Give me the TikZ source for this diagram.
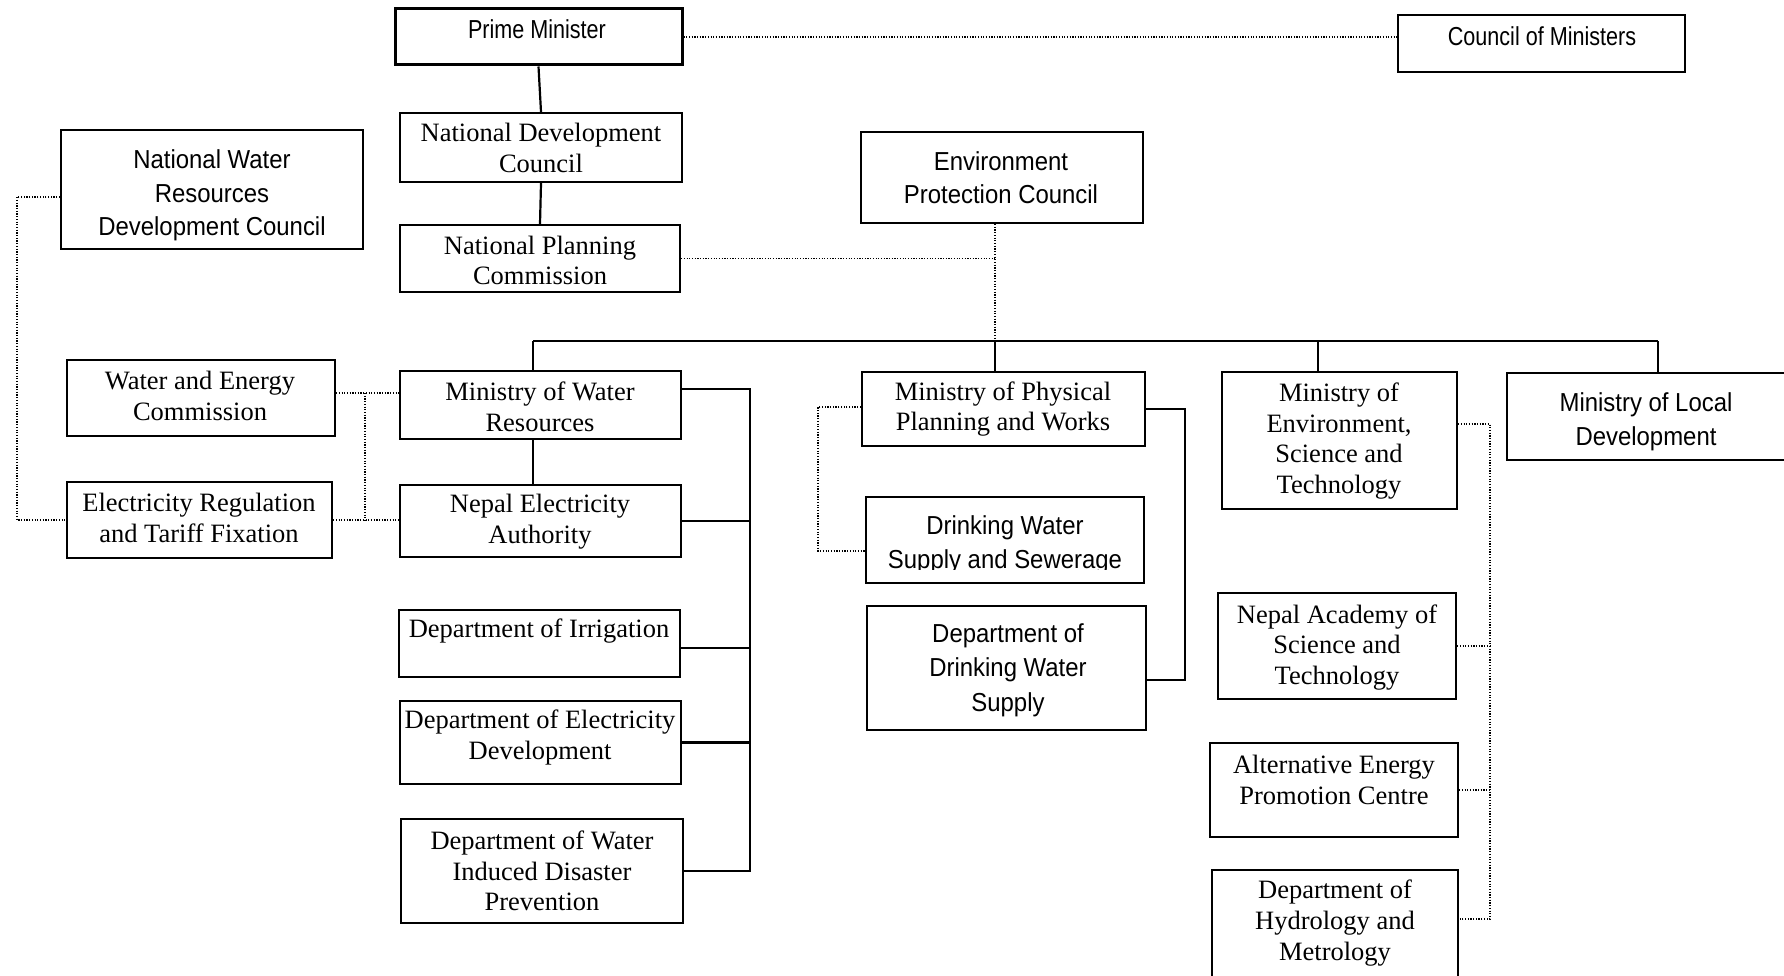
\documentclass[tikz,border=0pt]{standalone}
\usepackage{fontspec}
\newfontfamily\tnr{Liberation Serif}
\newfontfamily\arn[FakeStretch=0.92]{Liberation Sans}
\newfontfamily\arnn[FakeStretch=0.83]{Liberation Sans}
\tikzset{
  box/.style={draw=black, line width=2.2pt, rectangle, inner sep=0pt, fill=white},
  tser/.style={font=\tnr\fontsize{26.5}{30.7}\selectfont, align=center, inner sep=0pt},
  tsan/.style={font=\arn\fontsize{26}{33.5}\selectfont, align=center, inner sep=0pt},
  tsanw/.style={font=\arn\fontsize{26}{34.5}\selectfont, align=center, inner sep=0pt},
  tsann/.style={font=\arnn\fontsize{26}{33.5}\selectfont, align=center, inner sep=0pt},
  link/.style={draw=black, line width=2.2pt},
  blink/.style={draw=black, line width=2.8pt},
  dots/.style={draw=black, line width=1.7pt, dash pattern=on 1.2pt off 1.5pt}
}
\newcommand\bx[6][]{\node[box,#1,minimum width={#5-#3},minimum height={#6-#4}] (#2) at ({(#3+#5)/2},{(#4+#6)/2}) {};}
\begin{document}
\begin{tikzpicture}[x=1pt,y=-1pt]
\clip (0,0) rectangle (1784,976);
\fill[white] (0,0) rectangle (1784,976);
% boxes
\bx[line width=3pt]{pm}{395}{9}{682}{65}
\bx[line width=2.6pt]{com}{1398}{15}{1685}{72}
\bx{ndc}{400}{113}{682}{182}
\bx{npc}{400}{225}{680}{292}
\bx{nwrdc}{61}{130}{363}{249}
\bx{epc}{861}{132}{1143}{223}
\bx{wec}{67}{360}{335}{436}
\bx{ertf}{67}{482}{332}{558}
\bx{mwr}{400}{371}{681}{439}
\bx{nea}{400}{485}{681}{557}
\bx{irr}{399}{610}{680}{677}
\bx{ded}{400}{701}{681}{784}
\bx{dwidp}{401}{819}{683}{923}
\bx{mppw}{862}{372}{1145}{446}
\bx{dwss}{866}{497}{1144}{583}
\bx{ddws}{867}{606}{1146}{730}
\bx{moest}{1222}{372}{1457}{509}
\bx{mold}{1507}{373}{1800}{460}
\bx{nast}{1218}{593}{1456}{699}
\bx{aepc}{1210}{743}{1458}{837}
\bx{dhm}{1212}{870}{1458}{995}
% texts
\node[tsann] (t-pm) at (537,29) {Prime Minister};
\node[tsann] (t-com) at (1542,36) {Council of Ministers};
\node[tser] (t-ndc) at (541,148) {National Development\\Council};
\node[tser] (t-npc) at (540,260.5) {National Planning\\Commission};
\node[tsan] (t-nwrdc) at (212,195.5) {National Water\\Resources\\Development Council};
\node[tsan] (t-epc) at (1001,177.5) {Environment\\Protection Council};
\node[tser] (t-wec) at (200,396) {Water and Energy\\Commission};
\node[tser] (t-ertf) at (199,518) {Electricity Regulation\\and Tariff Fixation};
\node[tser] (t-mwr) at (540,407) {Ministry of Water\\Resources};
\node[tser] (t-nea) at (540,521.5) {Nepal Electricity\\Authority};
\node[tser] (t-irr) at (539,631) {Department of Irrigation};
\node[tser] (t-ded) at (540,737.5) {Department of Electricity\\Development};
\node[tser] (t-dwidp) at (542,871) {Department of Water\\Induced Disaster\\Prevention};
\node[tser] (t-mppw) at (1003,409) {Ministry of Physical\\Planning and Works};
\begin{scope}
\clip (866,497) rectangle (1144,569);
\node[tsan] (t-dwss) at (1005,545) {Drinking Water\\Supply and Sewerage};
\end{scope}
\node[tsanw] (t-ddws) at (1008,670) {Department of\\Drinking Water\\Supply};
\node[tser] (t-moest) at (1339,441) {Ministry of\\Environment,\\Science and\\Technology};
\node[tsan] (t-mold) at (1646,422) {Ministry of Local\\Development};
\node[tser] (t-nast) at (1337,647.5) {Nepal Academy of\\Science and\\Technology};
\node[tser] (t-aepc) at (1334,780) {Alternative Energy\\Promotion Centre};
\node[tser] (t-dhm) at (1335,923) {Department of\\Hydrology and\\Metrology};
% top connectors
\draw[link] (pm.south) -- (ndc.north);
\draw[link] (ndc.south) -- (npc.north);
\draw[dots] (pm.east) -- (com.west |- pm.east);
% main bar
\coordinate (b1) at (533,341);
\coordinate (b2) at (995,341);
\coordinate (b3) at (1318,341);
\coordinate (b4) at (1658,341);
\draw[link] (b1) -- (b4);
\draw[link] (b1) -- (b1 |- mwr.north);
\draw[link] (b2) -- (b2 |- mppw.north);
\draw[link] (b3) -- (b3 |- moest.north);
\draw[link] (b4) -- (b4 |- mold.north);
\draw[dots] (epc.south -| b2) -- (b2);
\draw[dots] (npc.east) -- (npc.east -| b2);
% water resources group
\draw[link] (b1 |- mwr.south) -- (b1 |- nea.north);
\coordinate (r1) at (750,389);
\coordinate (r2) at (750,648);
\draw[blink] (mwr.east |- r1) -- (r1) -- (r1 |- dwidp.east) -- (dwidp.east);
\draw[blink] (nea.east) -- (nea.east -| r1);
\draw[blink] (irr.east |- r2) -- (r2);
\draw[blink] (ded.east) -- (ded.east -| r1);
% left dotted
\coordinate (j1) at (365,393);
\draw[dots] (wec.east |- j1) -- (mwr.west |- j1);
\draw[dots] (j1) -- (j1 |- ertf.east);
\draw[dots] (ertf.east) -- (nea.west |- ertf.east);
\coordinate (j2) at (17,197);
\draw[dots] (nwrdc.west |- j2) -- (j2) -- (j2 |- ertf.west) -- (ertf.west);
% physical planning group
\coordinate (j3) at (818,407);
\coordinate (j3b) at (818,551);
\draw[dots] (mppw.west |- j3) -- (j3) -- (j3b) -- (dwss.west |- j3b);
\coordinate (j4) at (1185,409);
\coordinate (j4b) at (1185,680);
\draw[blink] (mppw.east |- j4) -- (j4) -- (j4b) -- (ddws.east |- j4b);
% environment group
\coordinate (j5) at (1490,424);
\coordinate (j6) at (1490,919);
\draw[dots] (moest.east |- j5) -- (j5) -- (j6) -- (dhm.east |- j6);
\draw[dots] (nast.east) -- (nast.east -| j5);
\draw[dots] (aepc.east) -- (aepc.east -| j5);
\end{tikzpicture}
\end{document}
